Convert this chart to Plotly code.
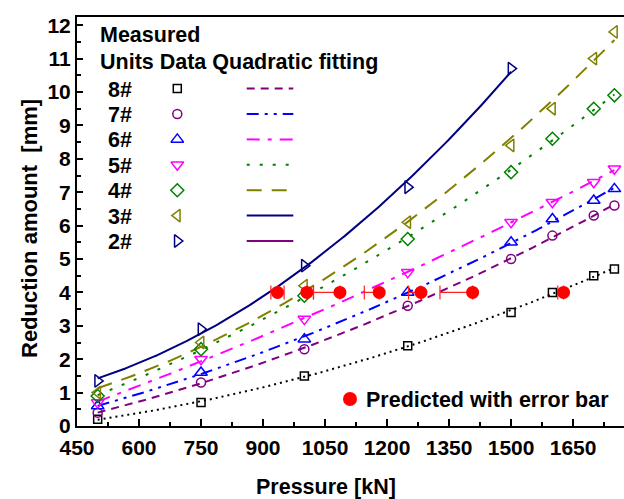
import numpy as np
import plotly.graph_objects as go

# Measured reduction amount [mm] of each unit vs. pressure [kN]
pressure = [500, 750, 1000, 1250, 1500, 1600, 1700, 1750]
pressure_2 = [500, 750, 1000, 1250, 1500]

red_8 = [0.2, 0.7, 1.5, 2.4, 3.4, 4.0, 4.5, 4.7]
red_7 = [0.4, 1.3, 2.3, 3.6, 5.0, 5.7, 6.3, 6.6]
red_6 = [0.6, 1.6, 2.6, 4.0, 5.5, 6.2, 6.75, 7.1]
red_5 = [0.7, 2.0, 3.2, 4.6, 6.1, 6.7, 7.3, 7.7]
red_4 = [0.9, 2.3, 3.9, 5.6, 7.6, 8.6, 9.5, 9.9]
red_3 = [1.0, 2.5, 4.2, 6.1, 8.4, 9.5, 11.0, 11.8]
red_2 = [1.35, 2.9, 4.8, 7.15, 10.7]

units = ["8#", "7#", "6#", "5#", "4#", "3#", "2#"]

# Predicted pressures with horizontal error bars
pred_pressure = [935, 1006, 1086, 1181, 1282, 1407, 1627]
pred_reduction = [4.0, 4.0, 4.0, 4.0, 4.0, 4.0, 4.0]
pred_err_minus = [16, 0, 64, 36, 30, 79, 14]
pred_err_plus = [16, 16, 0, 0, 0, 0, 0]

FONT = "Liberation Sans"
PURPLE, BLUE, MAGENTA = "#800080", "#0000ff", "#ff00ff"
GREEN, OLIVE, NAVY = "#008000", "#808000", "#000080"

DOT = "2px,4px"
DASH = "8px,6px"
DASH_DOT_DOT = "12px,6px,3px,6px,3px,6px"
DASH_DOT = "13px,8px,4px,8px"
SPARSE_DOT = "3px,10px"
LONG_DASH = "15px,10px"

series = [
    # unit, x, y, symbol, marker colour, marker size, curve colour, curve dash
    ("8#", pressure, red_8, "square-open", "black", 8, "black", DOT),
    ("7#", pressure, red_7, "circle-open", PURPLE, 9, PURPLE, DASH),
    ("6#", pressure, red_6, "triangle-up-open", BLUE, 11, BLUE, DASH_DOT_DOT),
    ("5#", pressure, red_5, "triangle-down-open", MAGENTA, 11, MAGENTA, DASH_DOT),
    ("4#", pressure, red_4, "diamond-open", GREEN, 10, GREEN, SPARSE_DOT),
    ("3#", pressure, red_3, "triangle-left-open", OLIVE, 11, OLIVE, LONG_DASH),
    ("2#", pressure_2, red_2, "triangle-right-open", NAVY, 11, NAVY, "solid"),
]

# line samples in the "Quadratic fitting" column of the key
key_lines = [
    (PURPLE, DASH), (BLUE, DASH_DOT_DOT), (MAGENTA, DASH_DOT), (GREEN, SPARSE_DOT),
    (OLIVE, LONG_DASH), (NAVY, "solid"), (PURPLE, "solid"),
]

fig = go.Figure()

for unit, xs, ys, sym, mcol, msize, lcol, dash in series:
    coef = np.polyfit(xs, ys, 2)
    xf = np.linspace(min(xs), max(xs), 200)
    fig.add_trace(go.Scatter(
        x=xf, y=np.polyval(coef, xf), mode="lines",
        line=dict(color=lcol, width=2, dash=dash), showlegend=False,
        hoverinfo="skip"))
for unit, xs, ys, sym, mcol, msize, lcol, dash in series:
    fig.add_trace(go.Scatter(
        x=xs, y=ys, mode="markers", name=unit,
        marker=dict(symbol=sym, size=msize, color=mcol,
                    line=dict(color=mcol, width=1.5)),
        showlegend=False))

fig.add_trace(go.Scatter(
    x=pred_pressure, y=pred_reduction, mode="markers",
    marker=dict(color="#ff0000", size=13),
    error_x=dict(type="data", symmetric=False, array=pred_err_plus,
                 arrayminus=pred_err_minus, color="#ff2020",
                 thickness=1.2, width=7),
    showlegend=False))

# ---- hand-built key on an overlay axis measured in pixels from the plot's top-left
PW, PH = 547, 409
row_y0, row_dy = 71.6, 25.4
rows_y = [row_y0 + i * row_dy for i in range(len(units))]
for i, (unit, xs, ys, sym, mcol, msize, lcol, dash) in enumerate(series):
    fig.add_trace(go.Scatter(
        x=[100.3], y=[rows_y[i]], mode="markers", xaxis="x2", yaxis="y2",
        marker=dict(symbol=sym, size=msize, color=mcol,
                    line=dict(color=mcol, width=1.5)),
        showlegend=False, hoverinfo="skip"))
    kc, kd = key_lines[i]
    fig.add_trace(go.Scatter(
        x=[169.7, 216.3], y=[rows_y[i], rows_y[i]], mode="lines",
        xaxis="x2", yaxis="y2", line=dict(color=kc, width=2, dash=kd),
        showlegend=False, hoverinfo="skip"))

fig.add_trace(go.Scatter(
    x=[273], y=[382], mode="markers", xaxis="x2", yaxis="y2",
    marker=dict(color="#ff0000", size=14), showlegend=False, hoverinfo="skip"))

bold = dict(family=FONT, size=21.5, color="black", weight="bold")
annotations = [
    dict(x=21.3, y=17.5, text="Measured", xanchor="left"),
    dict(x=21.3, y=45, text="Units Data Quadratic fitting", xanchor="left"),
    dict(x=287, y=382.5, text="Predicted with error bar", xanchor="left"),
]
for i, unit in enumerate(units):
    annotations.append(dict(x=43, y=rows_y[i] + 1, text=unit, xanchor="center"))
annotations = [dict(a, xref="x2", yref="y2", yanchor="middle", showarrow=False,
                    font=bold) for a in annotations]

# axis titles
annotations.append(dict(x=(326 - 77) / PW, y=-(487 - 426) / PH, xref="paper", yref="paper",
                        text="Pressure [kN]", showarrow=False, font=bold,
                        xanchor="center", yanchor="middle"))
annotations.append(dict(x=-(77 - 30) / PW, y=(426 - 229) / PH, xref="paper", yref="paper",
                        text="Reduction amount  [mm]", textangle=-90, showarrow=False,
                        font=dict(bold, size=22), xanchor="center", yanchor="middle"))

axis_common = dict(showline=True, linecolor="black", linewidth=2, ticks="inside",
                   tickcolor="black", tickwidth=1.5, showgrid=False, zeroline=False,
                   tickfont=dict(bold, size=21))

fig.update_layout(
    width=624, height=499,
    margin=dict(l=77, r=0, t=17, b=73),
    plot_bgcolor="white", paper_bgcolor="white",
    xaxis=dict(range=[450, 450 + PW / 0.4134], tickmode="linear", tick0=450, dtick=150,
               ticklen=7, mirror=True, ticklabelstandoff=2,
               minor=dict(ticks="inside", ticklen=4, dtick=75, tick0=450,
                          tickcolor="black", tickwidth=1.5),
               **axis_common),
    yaxis=dict(range=[0, PH / 33.4], tickmode="linear", tick0=0, dtick=1, ticklen=6,
               minor=dict(ticks="inside", ticklen=3.5, dtick=0.5, tick0=0,
                          tickcolor="black", tickwidth=1.5),
               **axis_common),
    xaxis2=dict(overlaying="x", range=[0, PW], visible=False),
    yaxis2=dict(overlaying="y", range=[PH, 0], visible=False),
    annotations=annotations,
    showlegend=False,
)

fig.write_html("out.html")
